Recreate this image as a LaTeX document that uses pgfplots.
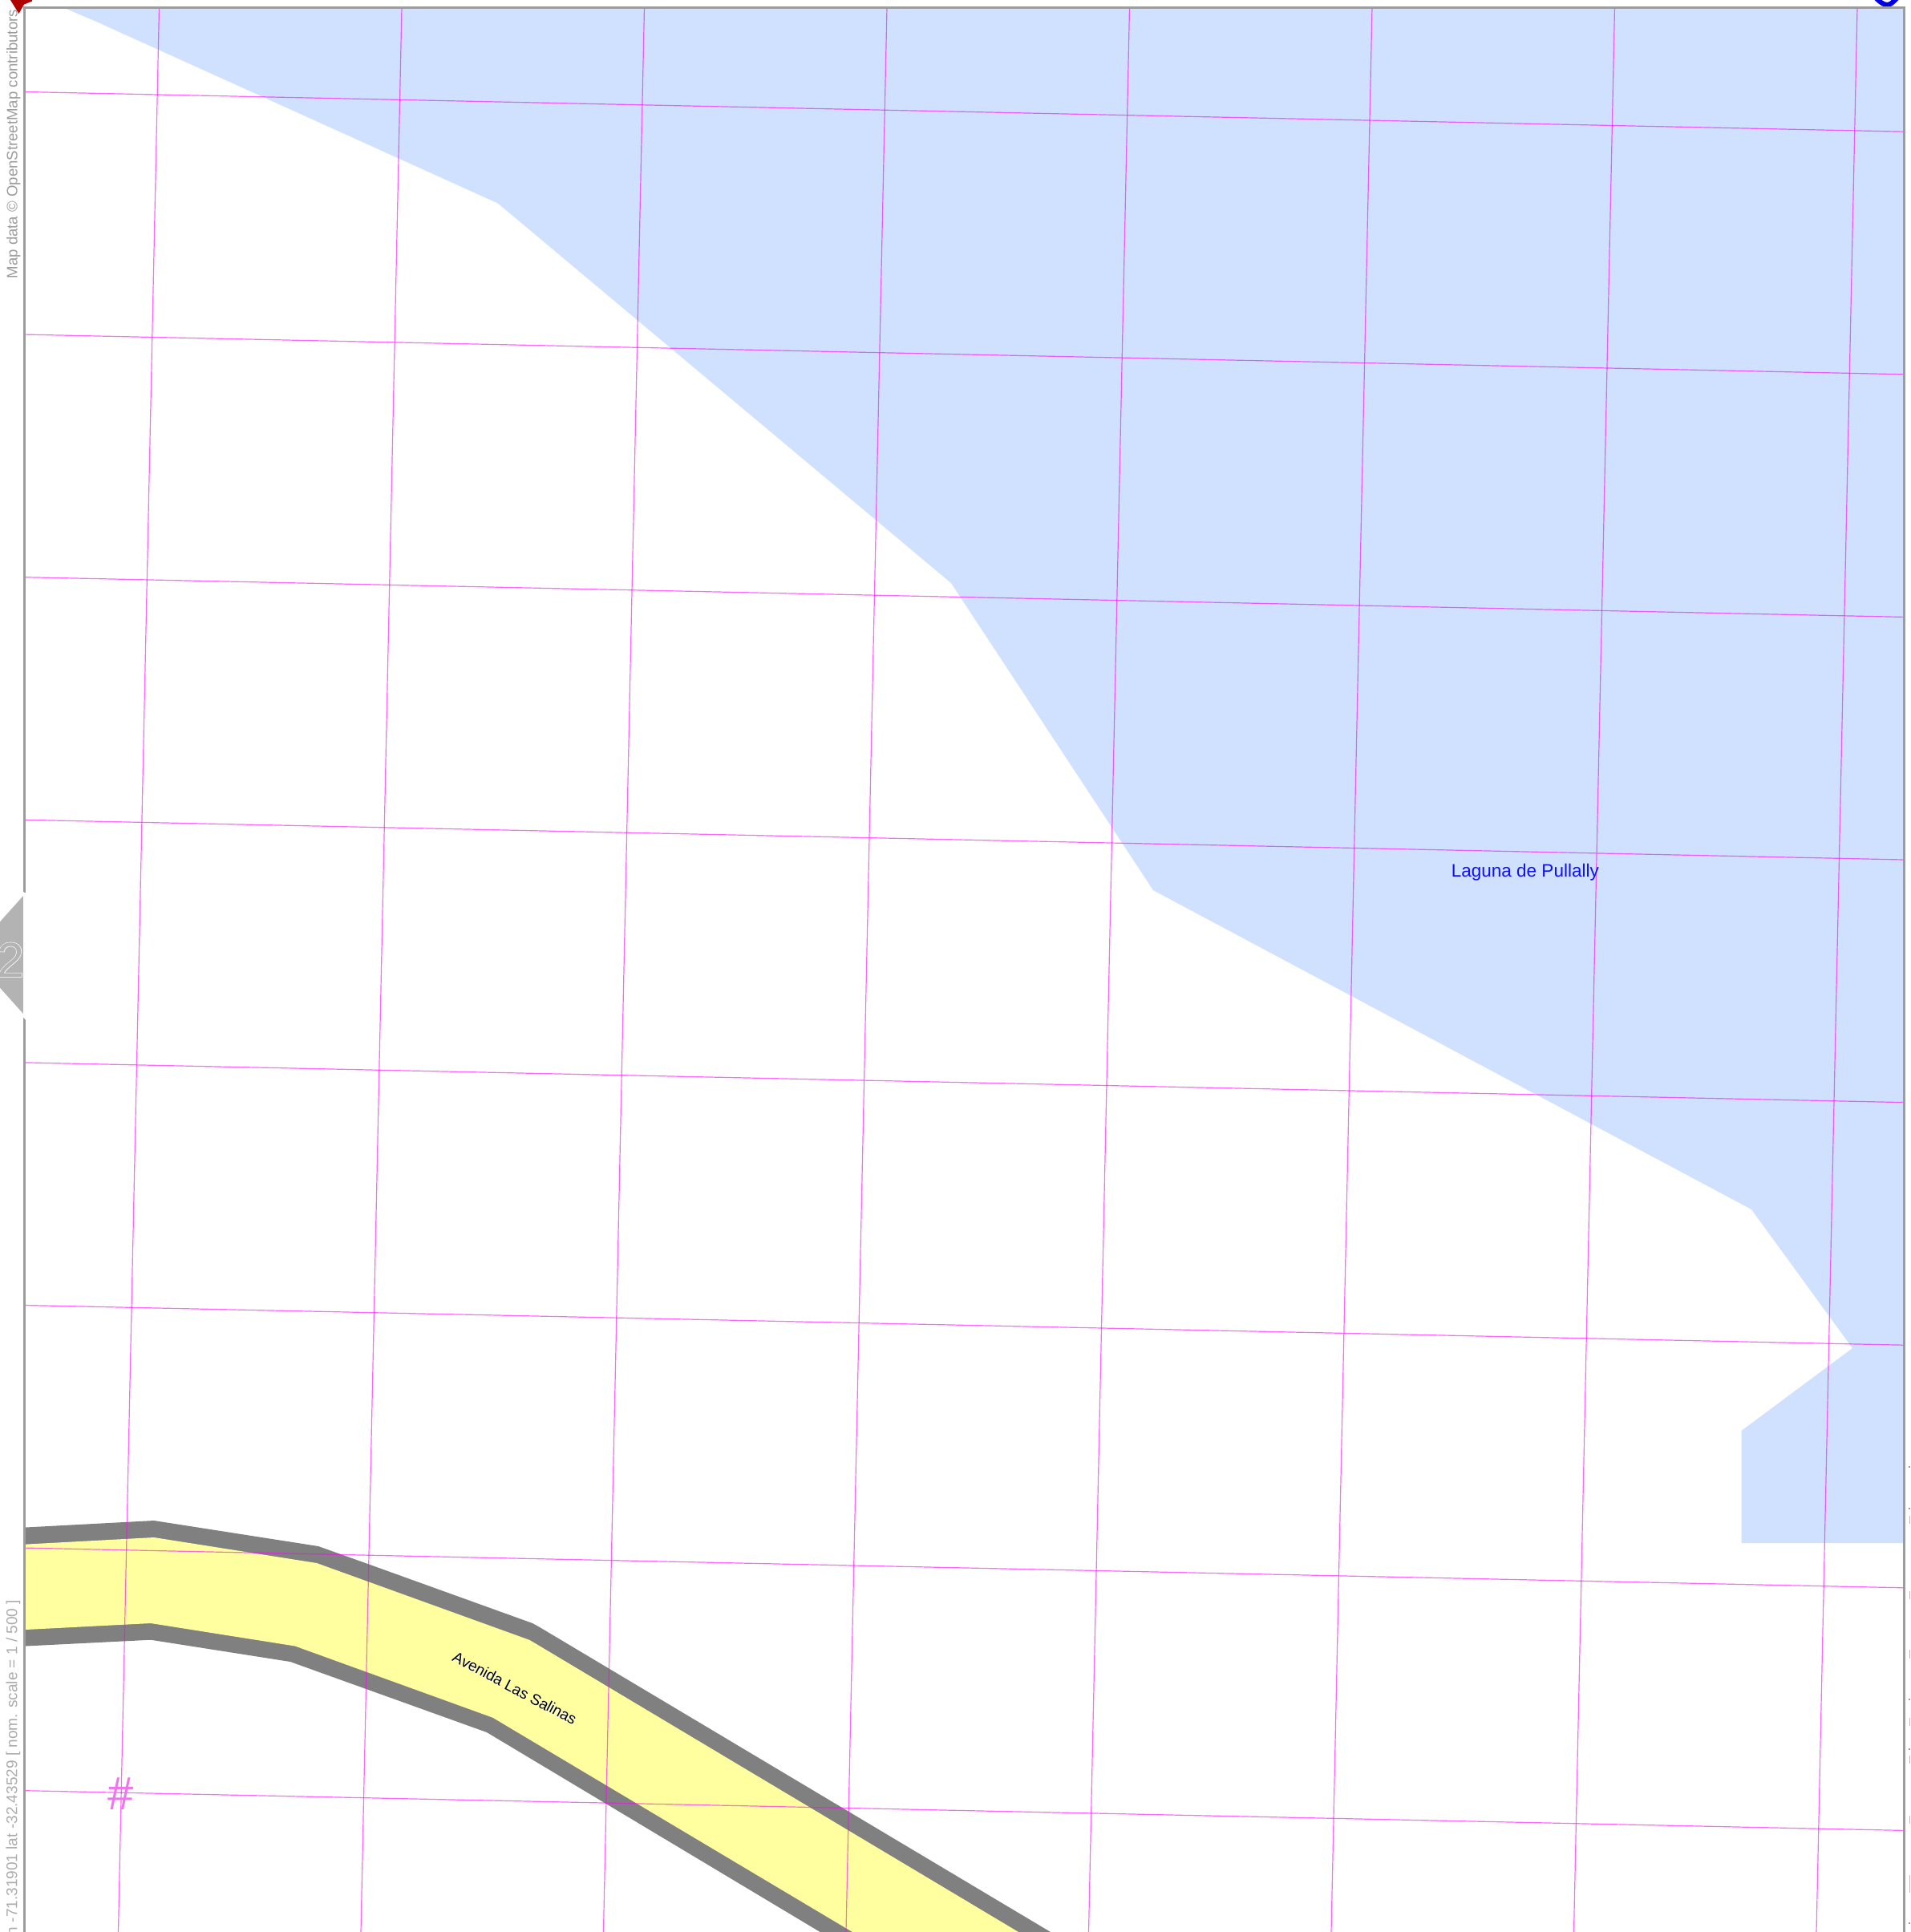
\documentclass[border=0pt]{standalone}
\usepackage{fontspec}
\setmainfont{Liberation Sans}
\newfontfamily\halofont[FakeBold=2.5]{Liberation Sans}
\newfontfamily\twofont[FakeBold=2]{Liberation Sans}
\usepackage{pgfplots}
\pgfplotsset{compat=1.18}

\definecolor{water}{HTML}{D0E0FF}
\definecolor{road}{HTML}{FFFFA0}
\definecolor{casing}{HTML}{808080}
\definecolor{mapframe}{HTML}{9C9C9C}
\definecolor{gridpink}{rgb}{1,0,1}
\definecolor{marker}{HTML}{B3B3B3}

% 1 px of the reference = 0.25pt
\pgfplotsset{
  grid line/.style={draw=gridpink, opacity=0.6, line width=0.3pt, no marks},
  tick mark/.style={draw=mapframe, line width=0.3pt, no marks},
  tick bar/.style={draw=mapframe!70, line width=0.25pt, no marks},
}

\begin{document}
\begin{tikzpicture}
\path[use as bounding box] (0,0) rectangle (595.5pt,602.25pt);
\begin{axis}[
    at={(0,0)}, anchor=south west,
    hide axis,
    scale only axis,
    width=595.5pt, height=602.25pt,
    xmin=0, xmax=2382, ymin=0, ymax=2409,
    y dir=reverse,
  ]
% lake
\addplot[fill=water, draw=none, no marks] coordinates {
  (78,9) (118,26) (621,253.6) (1186,727) (1438,1110) (2184,1508) (2310,1681)
  (2171.5,1784) (2171.5,1924) (2374,1924) (2374,9) (78,9)};

% road, casing first and then the yellow on top
\addplot[fill=casing, draw=none, no marks] coordinates {
  (32,1904.5) (192,1896) (397,1928) (460,1950.5) (664,2024) (673,2029) (1310,2409)
  (1022.7,2409) (607,2160) (362,2072) (188,2044.7) (32,2052.5) (32,1904.5)};
\addplot[fill=road, draw=none, no marks] coordinates {
  (32,1925.6) (192,1917) (395,1949) (660.6,2045) (1270,2409)
  (1063,2409) (614.5,2141.7) (368,2052.5) (188,2024) (32,2032) (32,1925.6)};

% graticule
\addplot[grid line] coordinates {(198.5,9) (147.5,2409)};
\addplot[grid line] coordinates {(501,9) (450,2409)};
\addplot[grid line] coordinates {(803.5,9) (752.5,2409)};
\addplot[grid line] coordinates {(1106,9) (1055,2409)};
\addplot[grid line] coordinates {(1408.5,9) (1357.5,2409)};
\addplot[grid line] coordinates {(1711,9) (1660,2409)};
\addplot[grid line] coordinates {(2013.5,9) (1962.5,2409)};
\addplot[grid line] coordinates {(2316,9) (2265,2409)};
\addplot[grid line] coordinates {(32,114.5) (2374,164.2)};
\addplot[grid line] coordinates {(32,417.1) (2374,466.8)};
\addplot[grid line] coordinates {(32,719.7) (2374,769.4)};
\addplot[grid line] coordinates {(32,1022.3) (2374,1072)};
\addplot[grid line] coordinates {(32,1324.9) (2374,1374.6)};
\addplot[grid line] coordinates {(32,1627.5) (2374,1677.2)};
\addplot[grid line] coordinates {(32,1930.1) (2374,1979.8)};
\addplot[grid line] coordinates {(32,2232.7) (2374,2282.4)};

% blue ring cut by the top edge
\addplot[draw={rgb,255:red,0;green,0;blue,225}, line width=1.5pt, smooth, no marks] coordinates {
  (2339,-3) (2343,1) (2348,4.5) (2353,6) (2358,4.5) (2362,1) (2366,-3)};

% frame
\addplot[draw=mapframe, line width=0.75pt, no marks] coordinates {(31,2409) (31,1268)};
\addplot[draw=mapframe, line width=0.75pt, no marks] coordinates {(31,1113) (31,9) (2374,9) (2374,2409)};

% ticks to the right of the frame
\addplot[tick mark] coordinates {(2379.5,1829) (2382,1829)};
\addplot[tick mark] coordinates {(2379.5,1881) (2382,1881)};
\addplot[tick mark] coordinates {(2379.5,2119) (2382,2119)};
\addplot[tick mark] coordinates {(2379.5,2181) (2382,2181)};
\addplot[tick mark] coordinates {(2379.5,2398) (2382,2398)};
\addplot[tick bar] coordinates {(2381,1890) (2381,1900)};
\addplot[tick bar] coordinates {(2381,1984) (2381,1994)};
\addplot[tick bar] coordinates {(2381,2057) (2381,2068)};
\addplot[tick bar] coordinates {(2381,2142) (2381,2152)};
\addplot[tick bar] coordinates {(2381,2189) (2381,2199)};
\addplot[tick bar] coordinates {(2381,2264) (2381,2274)};
\addplot[tick bar] coordinates {(2381,2338) (2381,2360)};

% page marker on the left edge
\addplot[fill=marker, draw=white, line width=0.7pt, no marks] coordinates {
  (30.5,1113) (-39,1190.5) (30.5,1268) (30.5,1113)};
\addplot[fill={rgb,255:red,176;green,0;blue,0}, draw=none, no marks] coordinates {
  (13,0) (23.5,17) (30,5.5) (40,1.5) (40,0) (13,0)};

% texts
\node[inner sep=0pt, anchor=base east, text=white] at (axis cs:31,1218) {\fontsize{15.3pt}{15.3pt}\twofont 2};
\node[inner sep=0pt, anchor=base east, text=marker] at (axis cs:31,1218) {\fontsize{15.3pt}{15.3pt}\selectfont 2};
\node[inner sep=0pt, anchor=base west, rotate=90, text=mapframe] at (axis cs:21.7,348) {\fontsize{4.65pt}{4.65pt}\selectfont Map data © OpenStreetMap contributors};
\node[inner sep=0pt, anchor=base east, rotate=90, text=mapframe!85] at (axis cs:21.4,1994) {\fontsize{4.76pt}{4.76pt}\selectfont lon -71.31901 lat -32.43529 [ nom. scale = 1 / 500 ]};
\node[inner sep=0pt, anchor=base west, text={rgb,255:red,16;green,16;blue,255}] at (axis cs:1809,1093) {\fontsize{5.63pt}{5.63pt}\selectfont Laguna de Pullally};
\node[inner sep=0pt, rotate=-28, text=white] at (axis cs:642,2105) {\fontsize{4.75pt}{4.75pt}\halofont Avenida Las Salinas};
\node[inner sep=0pt, rotate=-28, text=black] at (axis cs:642,2105) {\fontsize{4.75pt}{4.75pt}\selectfont Avenida Las Salinas};
\node[inner sep=0pt, anchor=base, text={rgb,255:red,240;green,115;blue,240}] at (axis cs:150.5,2256) {\fontsize{14.5pt}{14.5pt}\selectfont \#};
\end{axis}
\end{tikzpicture}
\end{document}
